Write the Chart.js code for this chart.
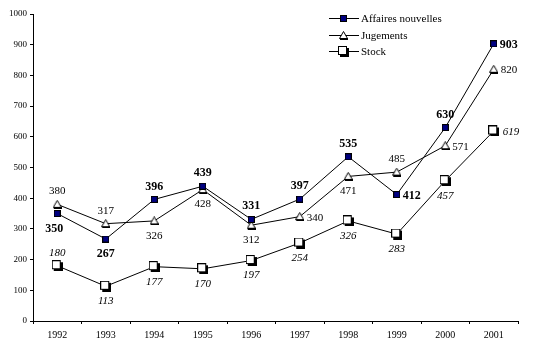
<!DOCTYPE html>
<html>
<head>
<meta charset="utf-8">
<script src="https://cdn.jsdelivr.net/npm/chart.js@4/dist/chart.umd.min.js"></script>
<style>
  html, body { margin: 0; padding: 0; background: #fff; }
  #wrap { width: 534px; height: 349px; }
</style>
</head>
<body>
<div id="wrap"><canvas id="chart"></canvas></div>
<script>
// Données
const years = ['1992', '1993', '1994', '1995', '1996', '1997', '1998', '1999', '2000', '2001'];
const affaires = [350, 267, 396, 439, 331, 397, 535, 412, 630, 903];
const jugements = [380, 317, 326, 428, 312, 340, 471, 485, 571, 820];
const stock = [180, 113, 177, 170, 197, 254, 326, 283, 457, 619];
const yTicks = [0, 100, 200, 300, 400, 500, 600, 700, 800, 900, 1000];

// placement des étiquettes (a = au-dessus, b = en dessous, r = à droite, bl = dessous-gauche)
const affairesPos = ['bl', 'b', 'a', 'a', 'a', 'a', 'a', 'r', 'a', 'r'];
const jugementsPos = ['a', 'a', 'b', 'b', 'b', 'r', 'b', 'a', 'r', 'r'];
const stockPos = ['a', 'b', 'b', 'b', 'b', 'b', 'b', 'b', 'b', 'r'];

const SERIF = '"Liberation Serif", "Times New Roman", serif';

// Marqueurs dessinés sur des petits canvas
function filledSquare(size, fill) {
    const c = document.createElement('canvas');
    c.width = size; c.height = size;
    const g = c.getContext('2d');
    g.fillStyle = '#000';
    g.fillRect(0, 0, size, size);
    g.fillStyle = fill;
    g.fillRect(1, 1, size - 2, size - 2);
    return c;
}

function shadowSquare(size) {
    const c = document.createElement('canvas');
    c.width = size + 2; c.height = size + 2;
    const g = c.getContext('2d');
    g.fillStyle = '#000';
    g.fillRect(2, 2, size, size);
    g.fillRect(0, 0, size, size);
    g.fillStyle = '#fff';
    g.fillRect(1, 1, size - 2, size - 2);
    return c;
}

function triangle(w, h) {
    const c = document.createElement('canvas');
    c.width = w; c.height = h + 1;
    const g = c.getContext('2d');
    g.fillStyle = '#fff';
    g.strokeStyle = '#000';
    g.lineWidth = 1;
    g.beginPath();
    g.moveTo(w / 2, 0.5);
    g.lineTo(w - 0.5, h - 0.5);
    g.lineTo(0.5, h - 0.5);
    g.closePath();
    g.fill();
    g.stroke();
    g.fillStyle = '#000';
    g.fillRect(1, h - 1, w - 1, 2);
    return c;
}

const mkAffaires = filledSquare(7, '#000080');
const mkJugements = triangle(9, 8);
const mkStock = shadowSquare(9);

const labelStyles = [
    { pos: affairesPos, font: 'bold 12px ' + SERIF, rightGap: 6 },
    { pos: jugementsPos, font: '11px ' + SERIF, rightGap: 7 },
    { pos: stockPos, font: 'italic 11px ' + SERIF, rightGap: 9 }
];

const valueLabels = {
    id: 'valueLabels',
    afterDatasetsDraw(chart) {
        const ctx = chart.ctx;
        ctx.save();
        ctx.fillStyle = '#000';
        ctx.textBaseline = 'middle';
        chart.data.datasets.forEach((ds, di) => {
            const st = labelStyles[di];
            const meta = chart.getDatasetMeta(di);
            ctx.font = st.font;
            meta.data.forEach((pt, i) => {
                const txt = String(ds.data[i]);
                const p = st.pos[i];
                if (p === 'r') {
                    ctx.textAlign = 'left';
                    ctx.fillText(txt, pt.x + st.rightGap, pt.y + 1);
                } else if (p === 'a') {
                    ctx.textAlign = 'center';
                    ctx.fillText(txt, pt.x, pt.y - 13);
                } else if (p === 'bl') {
                    ctx.textAlign = 'center';
                    ctx.fillText(txt, pt.x - 3, pt.y + 15);
                } else {
                    ctx.textAlign = 'center';
                    ctx.fillText(txt, pt.x, pt.y + 15);
                }
            });
        });
        ctx.restore();
    }
};

const legendBox = {
    id: 'legendBox',
    afterDraw(chart) {
        const ctx = chart.ctx;
        const items = [
            ['Affaires nouvelles', mkAffaires, 18],
            ['Jugements', mkJugements, 35],
            ['Stock', mkStock, 51]
        ];
        ctx.save();
        ctx.fillStyle = '#000';
        ctx.strokeStyle = '#000';
        ctx.lineWidth = 1;
        ctx.font = '11px ' + SERIF;
        ctx.textAlign = 'left';
        ctx.textBaseline = 'middle';
        items.forEach(([name, mk, y]) => {
            ctx.beginPath();
            ctx.moveTo(329, y + 0.5);
            ctx.lineTo(359, y + 0.5);
            ctx.stroke();
            ctx.drawImage(mk, Math.round(343 - mk.width / 2), Math.round(y - mk.height / 2));
            ctx.fillText(name, 361, y + 1);
        });
        ctx.restore();
    }
};

const baseDs = {
    borderColor: '#000',
    borderWidth: 1,
    tension: 0,
    fill: false,
    pointRadius: 4
};

new Chart(document.getElementById('chart'), {
    type: 'line',
    data: {
        labels: years,
        datasets: [
            Object.assign({}, baseDs, { label: 'Affaires nouvelles', data: affaires, pointStyle: mkAffaires }),
            Object.assign({}, baseDs, { label: 'Jugements', data: jugements, pointStyle: mkJugements }),
            Object.assign({}, baseDs, { label: 'Stock', data: stock, pointStyle: mkStock })
        ]
    },
    options: {
        responsive: true,
        maintainAspectRatio: false,
        animation: false,
        layout: { padding: { top: 14, right: 16, left: 0, bottom: 0 } },
        plugins: {
            legend: { display: false },
            tooltip: { enabled: false }
        },
        scales: {
            x: {
                offset: true,
                grid: { offset: true, drawOnChartArea: false, drawTicks: true, tickLength: 3, color: '#000' },
                border: { color: '#000', width: 1 },
                ticks: { color: '#000', font: { family: SERIF, size: 10 }, padding: 5, maxRotation: 0 },
                afterFit(s) { s.height = 28; }
            },
            y: {
                min: 0,
                max: 1000,
                afterBuildTicks(s) { s.ticks = yTicks.map(v => ({ value: v })); },
                grid: { drawOnChartArea: false, drawTicks: true, tickLength: 3, color: '#000' },
                border: { color: '#000', width: 1 },
                ticks: { color: '#000', font: { family: SERIF, size: 9 }, padding: 3, callback: v => String(v) },
                afterFit(s) { s.width = 33; }
            }
        }
    },
    plugins: [valueLabels, legendBox]
});
</script>
</body>
</html>
